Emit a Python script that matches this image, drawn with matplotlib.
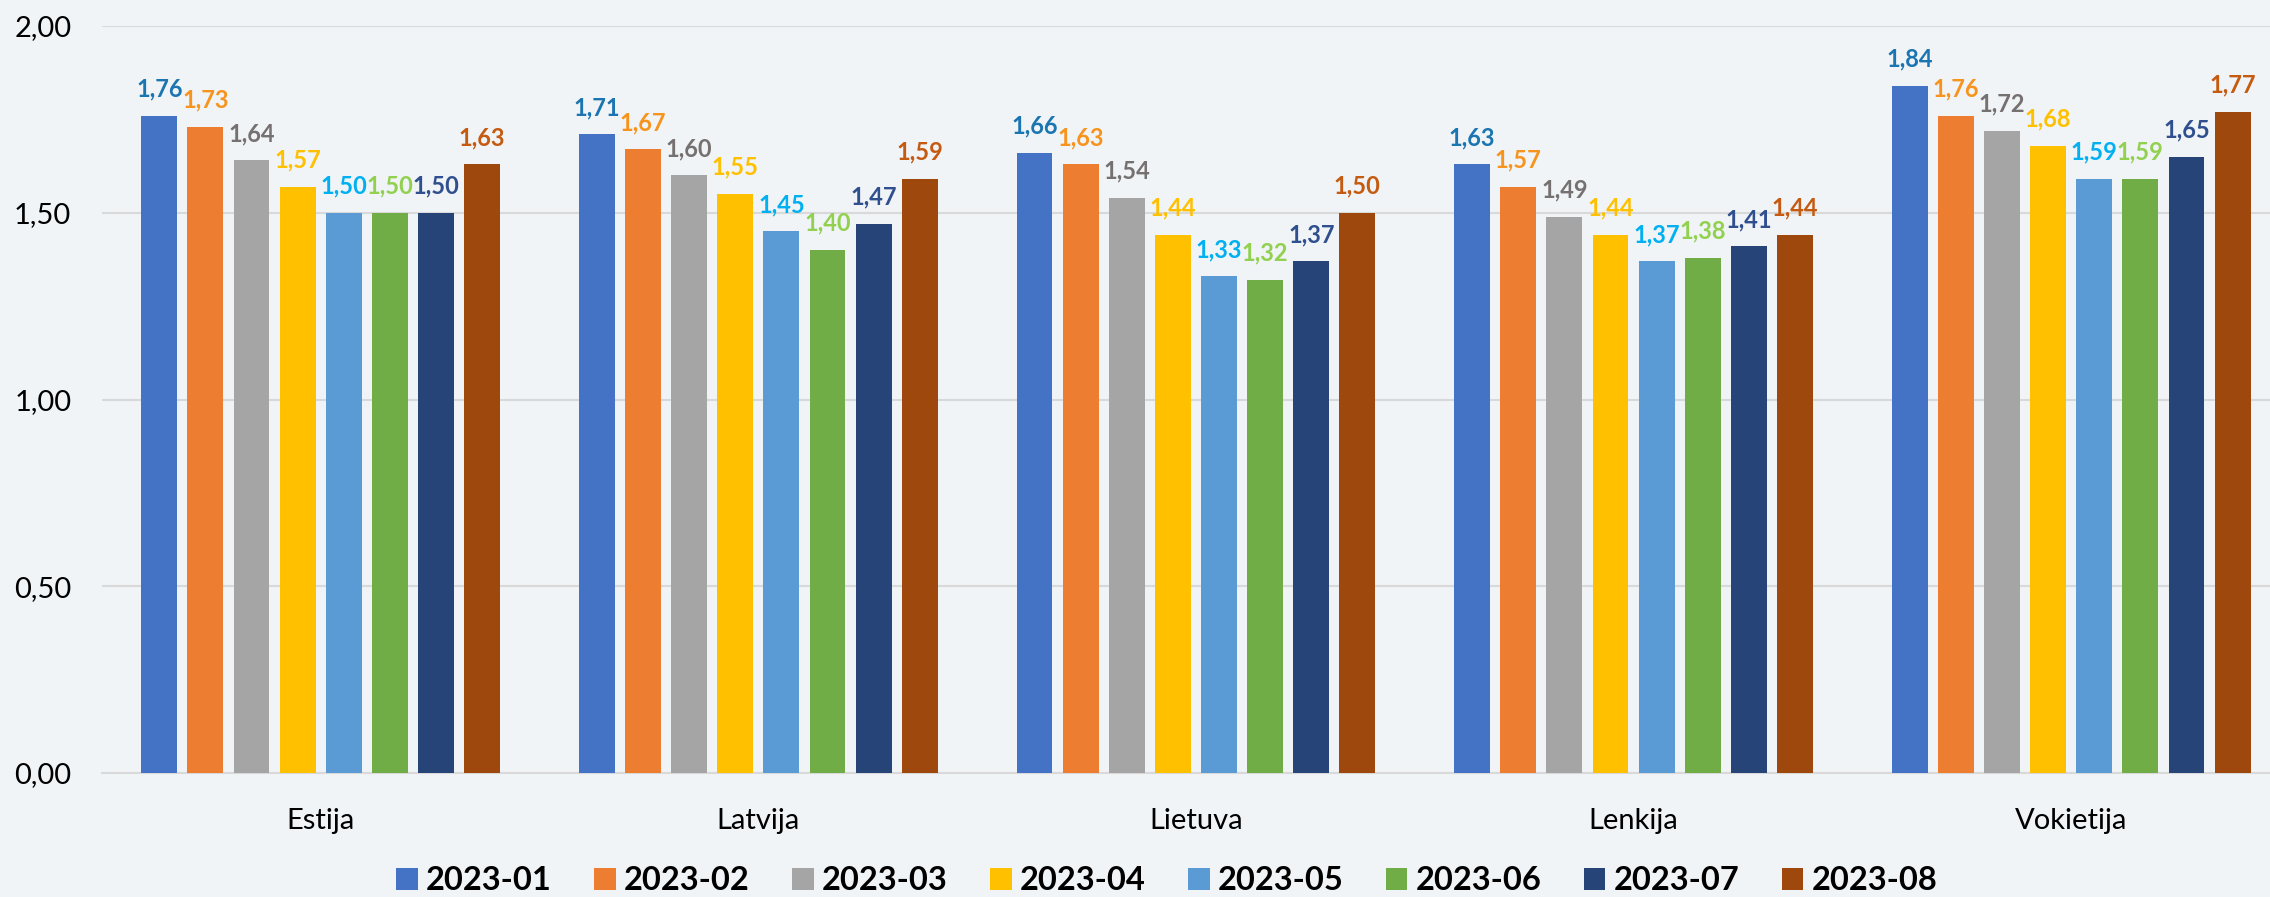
import numpy as np
import matplotlib.pyplot as plt
from matplotlib.ticker import FuncFormatter

countries = ['Estija', 'Latvija', 'Lietuva', 'Lenkija', 'Vokietija']
months = ['2023-01', '2023-02', '2023-03', '2023-04',
          '2023-05', '2023-06', '2023-07', '2023-08']

v_2023_01 = [1.76, 1.71, 1.66, 1.63, 1.84]
v_2023_02 = [1.73, 1.67, 1.63, 1.57, 1.76]
v_2023_03 = [1.64, 1.60, 1.54, 1.49, 1.72]
v_2023_04 = [1.57, 1.55, 1.44, 1.44, 1.68]
v_2023_05 = [1.50, 1.45, 1.33, 1.37, 1.59]
v_2023_06 = [1.50, 1.40, 1.32, 1.38, 1.59]
v_2023_07 = [1.50, 1.47, 1.37, 1.41, 1.65]
v_2023_08 = [1.63, 1.59, 1.50, 1.44, 1.77]
series = [v_2023_01, v_2023_02, v_2023_03, v_2023_04,
          v_2023_05, v_2023_06, v_2023_07, v_2023_08]

bar_colors = ['#4472C4', '#ED7D31', '#A5A5A5', '#FFC000',
              '#5B9BD5', '#70AD47', '#264478', '#9E480E']
label_colors = ['#1B75B0', '#F7941D', '#767171', '#FFC000',
                '#00B0F0', '#92D050', '#2F4F8F', '#C55A11']

plt.rcParams['font.family'] = ['Lato', 'DejaVu Sans']
bg = '#F0F4F7'

fig = plt.figure(figsize=(22.7, 8.97), dpi=100, facecolor=bg)
# axes run a little past the right edge, like the original crop
ax = fig.add_axes([0.0449, 0.1382, 0.9639, 0.8328])
ax.set_facecolor(bg)

x = np.arange(len(countries))
step = 0.1054
width = 0.082
for i, (vals, c, lc, m) in enumerate(zip(series, bar_colors, label_colors, months)):
    pos = x + (i - 3.5) * step
    bars = ax.bar(pos, vals, width, color=c, label=m, zorder=3)
    for b, v in zip(bars, vals):
        ax.annotate(f'{v:.2f}'.replace('.', ','),
                    (b.get_x() + b.get_width() / 2, v),
                    xytext=(0, 11), textcoords='offset points',
                    ha='center', va='bottom', fontsize=17,
                    fontweight='bold', color=lc)

ax.set_xlim(-0.5, len(countries) - 0.5)
ax.set_ylim(0, 2.0)
ax.set_yticks([0, 0.5, 1.0, 1.5, 2.0])
ax.yaxis.set_major_formatter(FuncFormatter(lambda v, p: f'{v:.2f}'.replace('.', ',')))
ax.set_xticks(x)
ax.set_xticklabels(countries)
ax.tick_params(axis='both', length=0, labelsize=21, colors='black')
ax.tick_params(axis='y', pad=22)
ax.tick_params(axis='x', pad=25)
ax.grid(axis='y', color='#D9D9D9', linewidth=1.5, zorder=0)
ax.set_axisbelow(True)
for s in ['top', 'right', 'left']:
    ax.spines[s].set_visible(False)
ax.spines['bottom'].set_color('#D9D9D9')
ax.spines['bottom'].set_linewidth(1.5)

fig.legend(loc='center', bbox_to_anchor=(0.514, 0.018), ncol=8, frameon=False,
           prop={'size': 23.5, 'weight': 'bold'}, handlelength=0.66,
           handleheight=0.66, handletextpad=0.25, columnspacing=1.3)

fig.savefig('out.png', dpi=100, facecolor=bg)
